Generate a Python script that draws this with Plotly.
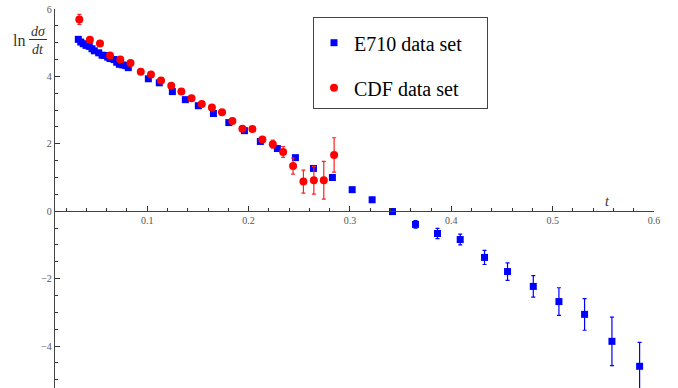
import plotly.graph_objects as go

# ---------------- data ----------------
e710_t = [0.0320, 0.0344, 0.0369, 0.0396, 0.0428, 0.0455, 0.0478, 0.0521, 0.0554,
          0.0577, 0.0610, 0.0633, 0.0672, 0.0699, 0.0725, 0.0758, 0.0788, 0.0813,
          0.1011, 0.1119, 0.1248, 0.1376, 0.1504, 0.1653, 0.1805, 0.1959, 0.2116,
          0.2284, 0.2462, 0.2640, 0.2827, 0.3022, 0.3219, 0.3420, 0.3647, 0.3864,
          0.4088, 0.4328, 0.4555, 0.4809, 0.5062, 0.5315, 0.5585, 0.5858]
e710_y = [5.10, 5.02, 4.97, 4.92, 4.89, 4.82, 4.76, 4.70, 4.63,
          4.62, 4.57, 4.53, 4.50, 4.42, 4.36, 4.34, 4.32, 4.26,
          3.93, 3.81, 3.55, 3.31, 3.13, 2.90, 2.63, 2.39, 2.07,
          1.86, 1.59, 1.27, 1.00, 0.64, 0.34, -0.01, -0.39, -0.66,
          -0.84, -1.37, -1.79, -2.23, -2.68, -3.06, -3.86, -4.60]
e710_err = [0.03, 0.03, 0.03, 0.03, 0.03, 0.03, 0.03, 0.03, 0.03,
            0.03, 0.03, 0.03, 0.03, 0.03, 0.03, 0.03, 0.03, 0.03,
            0.04, 0.04, 0.04, 0.04, 0.04, 0.04, 0.04, 0.04, 0.04,
            0.05, 0.05, 0.05, 0.05, 0.06, 0.07, 0.08, 0.11, 0.15,
            0.16, 0.21, 0.26, 0.32, 0.41, 0.47, 0.72, 0.71]

cdf_t = [0.0330, 0.0434, 0.0534, 0.0633, 0.0734, 0.0835, 0.0936, 0.1037, 0.1136,
         0.1237, 0.1337, 0.1437, 0.1538, 0.1638, 0.1738, 0.1840, 0.1939, 0.2038,
         0.2136, 0.2239, 0.2341, 0.2439, 0.2541, 0.2644, 0.2742, 0.2844]
cdf_y = [5.69, 5.09, 4.98, 4.62, 4.50, 4.40, 4.14, 4.06, 3.88,
         3.72, 3.55, 3.35, 3.18, 3.08, 2.94, 2.68, 2.45, 2.44,
         2.13, 1.99, 1.76, 1.34, 0.88, 0.92, 0.92, 1.67]
cdf_err = [0.15, 0.03, 0.03, 0.03, 0.03, 0.03, 0.03, 0.03, 0.03,
           0.03, 0.03, 0.03, 0.04, 0.04, 0.04, 0.05, 0.05, 0.06,
           0.07, 0.12, 0.16, 0.24, 0.34, 0.41, 0.56, 0.51]

x_tickvals = [0.1, 0.2, 0.3, 0.4, 0.5, 0.6]
x_ticktext = ["0.1", "0.2", "0.3", "0.4", "0.5", "0.6"]
y_tickvals = [-4, -2, 0, 2, 4, 6]
y_ticktext = ["\u22124", "\u22122", "0", "2", "4", "6"]

# ---------------- layout constants ----------------
W, H = 678, 388
ML, MR, MT, MB = 55, 24, 9, 0
XR = [0.009, 0.6]
YR = [-5.244, 6.0]
SERIF = "Liberation Serif"
PW, PH = W - ML - MR, H - MT - MB
PAD = "\u00a0" * 4


def px_x(p):
    return (p - ML) / PW


def px_y(p):
    return 1 - (p - MT) / PH


fig = go.Figure()
fig.add_trace(go.Scatter(
    x=e710_t, y=e710_y, mode="markers", name="E710 data set" + PAD, legendgroup="a",
    marker=dict(symbol="square", size=7, color="#0000ff"),
    error_y=dict(type="data", array=e710_err, visible=True, color="#0000ff",
                 thickness=1.2, width=2),
))
fig.add_trace(go.Scatter(
    x=cdf_t, y=cdf_y, mode="markers", name="CDF data set" + PAD, legendgroup="b",
    marker=dict(symbol="circle", size=8, color="#ff0000"),
    error_y=dict(type="data", array=cdf_err, visible=True, color="#ff2020",
                 thickness=1.2, width=2),
))

tickfont = dict(family=SERIF, size=10, color="#555555")
fig.update_xaxes(
    range=XR, anchor="free", position=(0 - YR[0]) / (YR[1] - YR[0]),
    showgrid=False, zeroline=False, showline=True, linecolor="#444444", linewidth=1.3,
    ticks="inside", ticklen=5, tickwidth=1, tickcolor="#333333",
    tickvals=x_tickvals, ticktext=x_ticktext, tickfont=tickfont,
    minor=dict(tick0=0, dtick=0.02, ticks="inside", ticklen=3, tickcolor="#333333", showgrid=False),
)
fig.update_yaxes(
    range=YR, showgrid=False, zeroline=False, showline=True, linecolor="#444444", linewidth=1.3,
    ticks="inside", ticklen=5, tickwidth=1, tickcolor="#333333",
    tickvals=y_tickvals, ticktext=y_ticktext, tickfont=tickfont,
    minor=dict(tick0=0, dtick=0.5, ticks="inside", ticklen=3, tickcolor="#333333", showgrid=False),
)

lbl = dict(xref="paper", yref="paper", showarrow=False, xanchor="center", yanchor="middle")
fig.update_layout(
    width=W, height=H, margin=dict(l=ML, r=MR, t=MT, b=MB),
    paper_bgcolor="white", plot_bgcolor="white",
    showlegend=True,
    legend=dict(x=px_x(313), y=px_y(17), xanchor="left", yanchor="top",
                bordercolor="#444444", borderwidth=1, bgcolor="white",
                font=dict(family=SERIF, size=20, color="black"),
                title=dict(text="\u00a0", font=dict(size=4)),
                tracegroupgap=16, traceorder="grouped"),
    annotations=[
        dict(text="ln", x=px_x(19), y=px_y(40), font=dict(family=SERIF, size=16, color="#333333"), **lbl),
        dict(text="<i>d\u03c3</i>", x=px_x(38), y=px_y(31), font=dict(family=SERIF, size=14, color="#333333"), **lbl),
        dict(text="<i>dt</i>", x=px_x(38), y=px_y(49), font=dict(family=SERIF, size=14, color="#333333"), **lbl),
        dict(text="<i>t</i>", x=px_x(607), y=px_y(201), font=dict(family=SERIF, size=14, color="#333333"), **lbl),
    ],
    shapes=[dict(type="line", xref="paper", yref="paper",
                 x0=px_x(29), x1=px_x(47), y0=px_y(39.5), y1=px_y(39.5),
                 line=dict(color="#333333", width=1))],
)

fig.write_html("out.html")
